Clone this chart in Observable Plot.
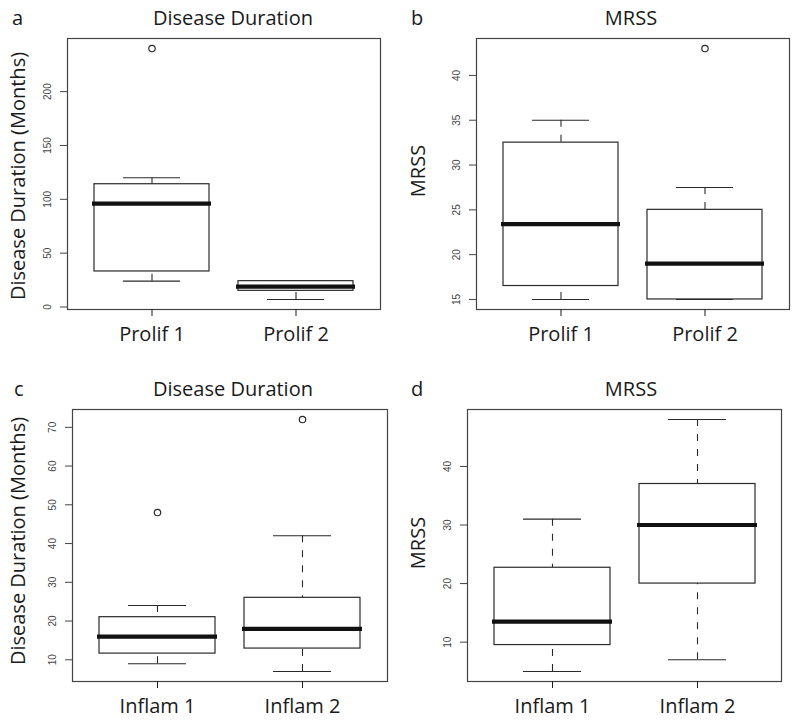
<!DOCTYPE html>
<html><head><meta charset="utf-8">
<script src="https://cdn.jsdelivr.net/npm/d3@7"></script>
<script src="https://cdn.jsdelivr.net/npm/@observablehq/plot@0.6"></script>
<style>
body{margin:0;background:#fff;}
#fig{position:relative;width:800px;height:724px;background:#fff;font-family:"Open Sans",sans-serif;color:#1a1a1a;overflow:hidden;}
.panel{position:absolute;}
.t{position:absolute;font-size:20px;line-height:27px;white-space:nowrap;}
.c{transform:translateX(-50%);}
.v{transform:translate(-50%,-50%) rotate(-90deg);}
</style></head><body><div id="fig"></div>
<script>
// ---- categories ----
const prolifGroups = ["Prolif 1", "Prolif 2"];
const inflamGroups = ["Inflam 1", "Inflam 2"];

// ---- a: Disease Duration (Months) by proliferation group ----
const durProlifLow = [24, 7];
const durProlifQ1 = [33, 15];
const durProlifMedian = [96, 19];
const durProlifQ3 = [114, 24];
const durProlifHigh = [120, 24];
const durProlifOutliers = [["Prolif 1", 240]];
const durProlifTicks = [0, 50, 100, 150, 200];

// ---- b: MRSS by proliferation group ----
const mrssProlifLow = [15, 15];
const mrssProlifQ1 = [16.5, 15];
const mrssProlifMedian = [23.4, 19];
const mrssProlifQ3 = [32.5, 25];
const mrssProlifHigh = [35, 27.5];
const mrssProlifOutliers = [["Prolif 2", 43]];
const mrssProlifTicks = [15, 20, 25, 30, 35, 40];

// ---- c: Disease Duration (Months) by inflammatory group ----
const durInflamLow = [9, 7];
const durInflamQ1 = [11.6, 12.9];
const durInflamMedian = [16, 18];
const durInflamQ3 = [21, 26];
const durInflamHigh = [24, 42];
const durInflamOutliers = [["Inflam 1", 48], ["Inflam 2", 72]];
const durInflamTicks = [10, 20, 30, 40, 50, 60, 70];

// ---- d: MRSS by inflammatory group ----
const mrssInflamLow = [5, 7];
const mrssInflamQ1 = [9.5, 20];
const mrssInflamMedian = [13.5, 30];
const mrssInflamQ3 = [22.7, 37];
const mrssInflamHigh = [31, 48];
const mrssInflamOutliers = [];
const mrssInflamTicks = [10, 20, 30, 40];

const INK = "#2a2a2a";

function boxPanel({groups, lo, q1, med, q3, hi, outliers, ticks, width, height, margins}) {
  const rows = groups.map((g, i) => ({group: g, lo: lo[i], q1: q1[i], med: med[i], q3: q3[i], hi: hi[i]}));
  const pts = outliers.map(([g, v]) => ({group: g, value: v}));
  const all = [...lo, ...hi, ...outliers.map(d => d[1])];
  const [mn, mx] = d3.extent(all);
  const pad = (mx - mn) * 0.04;
  return Plot.plot({
    width, height,
    marginLeft: margins[0], marginRight: margins[1], marginTop: margins[2], marginBottom: margins[3],
    style: {background: "transparent", overflow: "visible"},
    x: {type: "band", domain: groups, paddingInner: 0.2, paddingOuter: 0.18, label: null},
    y: {domain: [mn - pad, mx + pad], label: null},
    marks: [
      Plot.ruleX(rows, {x: "group", y1: "hi", y2: "q3", stroke: INK, strokeWidth: 1.1, strokeDasharray: "7,8"}),
      Plot.ruleX(rows, {x: "group", y1: "lo", y2: "q1", stroke: INK, strokeWidth: 1.1, strokeDasharray: "7,8"}),
      Plot.tickY(rows, {x: "group", y: "hi", stroke: INK, strokeWidth: 1.1, insetLeft: 29, insetRight: 29}),
      Plot.tickY(rows, {x: "group", y: "lo", stroke: INK, strokeWidth: 1.1, insetLeft: 29, insetRight: 29}),
      Plot.barY(rows, {x: "group", y1: "q1", y2: "q3", fill: "white", stroke: INK, strokeWidth: 1.2}),
      Plot.tickY(rows, {x: "group", y: "med", stroke: "#111", strokeWidth: 4.2, insetLeft: -2, insetRight: -2}),
      Plot.dot(pts, {x: "group", y: "value", r: 3.2, stroke: INK, strokeWidth: 1.2, fill: "none"}),
      Plot.frame({stroke: "#444", strokeWidth: 1.2}),
      Plot.axisY({ticks, tickSize: 7, tickRotate: -90, tickPadding: 10, fontSize: 10, fontFamily: "Liberation Sans", color: "#444", label: null}),
      Plot.axisX({tickSize: 7, tickPadding: 10, fontSize: 20, fontFamily: "Open Sans", color: "#1a1a1a", label: null})
    ]
  });
}

const fig = document.getElementById("fig");
function place(node, left, top) {
  node.classList.add("panel");
  node.style.left = left + "px";
  node.style.top = top + "px";
  fig.appendChild(node);
}
function txt(s, left, top, cls) {
  const d = document.createElement("div");
  d.className = "t " + (cls || "");
  d.textContent = s;
  d.style.left = left + "px";
  d.style.top = top + "px";
  fig.appendChild(d);
}

place(boxPanel({groups: prolifGroups, lo: durProlifLow, q1: durProlifQ1, med: durProlifMedian, q3: durProlifQ3, hi: durProlifHigh, outliers: durProlifOutliers, ticks: durProlifTicks, width: 400, height: 360, margins: [67, 20, 38, 51]}), 0, 0);
place(boxPanel({groups: prolifGroups, lo: mrssProlifLow, q1: mrssProlifQ1, med: mrssProlifMedian, q3: mrssProlifQ3, hi: mrssProlifHigh, outliers: mrssProlifOutliers, ticks: mrssProlifTicks, width: 400, height: 360, margins: [76, 11, 38, 51]}), 400, 0);
place(boxPanel({groups: inflamGroups, lo: durInflamLow, q1: durInflamQ1, med: durInflamMedian, q3: durInflamQ3, hi: durInflamHigh, outliers: durInflamOutliers, ticks: durInflamTicks, width: 400, height: 364, margins: [72, 13, 49, 43]}), 0, 360);
place(boxPanel({groups: inflamGroups, lo: mrssInflamLow, q1: mrssInflamQ1, med: mrssInflamMedian, q3: mrssInflamQ3, hi: mrssInflamHigh, outliers: mrssInflamOutliers, ticks: mrssInflamTicks, width: 400, height: 364, margins: [67, 19, 49, 43]}), 400, 360);

// panel letters
txt("a", 12, 3.6);
txt("b", 411, 3.6);
txt("c", 14, 375.3);
txt("d", 411, 375.3);
// titles
txt("Disease Duration", 233, 3.6, "c");
txt("MRSS", 631, 3.6, "c");
txt("Disease Duration", 233, 375.3, "c");
txt("MRSS", 631, 375.3, "c");
// y-axis titles
txt("Disease Duration (Months)", 17.2, 176, "v");
txt("MRSS", 417.2, 171, "v");
txt("Disease Duration (Months)", 17.2, 541.3, "v");
txt("MRSS", 416.5, 542.5, "v");
</script>
</body></html>
